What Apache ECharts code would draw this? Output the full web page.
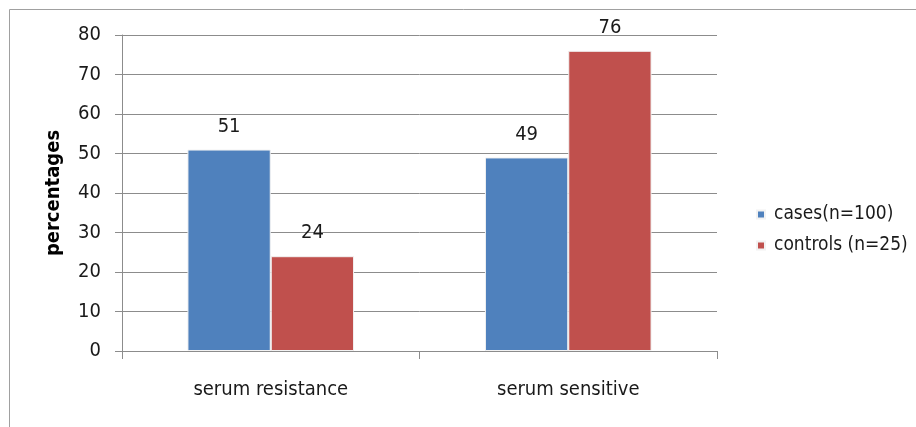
<!DOCTYPE html>
<html><head><meta charset="utf-8">
<script src="https://cdn.jsdelivr.net/npm/echarts@6/dist/echarts.min.js"></script>
<style>html,body{margin:0;padding:0;background:#fff}#c{width:916px;height:427px}</style>
</head><body><div id="c"></div>
<script>
const categories = ['serum resistance', 'serum sensitive'];
const casesValues = [51, 49];
const controlsValues = [24, 76];
const yTicks = [0, 10, 20, 30, 40, 50, 60, 70, 80];
const seriesNames = ['cases(n=100)', 'controls (n=25)'];

const FONT = '"DejaVu Sans Condensed", "Liberation Sans Narrow", sans-serif';
const chart = echarts.init(document.getElementById('c'), null, {renderer: 'canvas'});
chart.setOption({
  animation: false,
  backgroundColor: '#fff',
  graphic: [{
    type: 'rect', shape: {x: 9.5, y: 9.5, width: 1000, height: 1000},
    style: {fill: 'none', stroke: '#a0a0a0', lineWidth: 1}, silent: true, z: -1
  }],
  grid: {left: 122, right: 199, top: 35, bottom: 76, containLabel: false},
  legend: {
    orient: 'vertical', left: 751, top: 200, icon: 'rect',
    itemWidth: 8, itemHeight: 8, itemGap: 12,
    textStyle: {fontFamily: FONT, fontSize: 19, color: '#1a1a1a', padding: [0, 0, 0, 4]},
    data: seriesNames
  },
  xAxis: {
    type: 'category', data: categories,
    axisLine: {lineStyle: {color: '#8c8c8c', width: 1}},
    axisTick: {show: true, length: 8, alignWithLabel: false, lineStyle: {color: '#8c8c8c'}},
    axisLabel: {fontFamily: FONT, fontSize: 20, color: '#1a1a1a', margin: 29}
  },
  yAxis: {
    type: 'value', min: yTicks[0], max: yTicks[yTicks.length - 1], interval: 10,
    name: 'percentages', nameLocation: 'middle', nameGap: 58, nameRotate: 90,
    nameTextStyle: {fontFamily: FONT, fontSize: 20, fontWeight: 'bold', color: '#000'},
    axisLine: {show: true, lineStyle: {color: '#8c8c8c', width: 1}},
    axisTick: {show: true, length: 7, lineStyle: {color: '#8c8c8c'}},
    splitLine: {show: true, lineStyle: {color: '#8c8c8c', width: 1}},
    axisLabel: {fontFamily: FONT, fontSize: 20, color: '#1a1a1a', margin: 21}
  },
  series: [
    {
      name: seriesNames[0], type: 'bar', data: casesValues,
      barGap: '0%', barCategoryGap: '44%',
      itemStyle: {color: '#4F81BD', borderColor: '#f2f2f2', borderWidth: 1},
      label: {show: true, position: 'top', distance: 13, fontFamily: FONT, fontSize: 20, color: '#1a1a1a'}
    },
    {
      name: seriesNames[1], type: 'bar', data: controlsValues,
      barGap: '0%', barCategoryGap: '44%',
      itemStyle: {color: '#C0504D', borderColor: '#f2f2f2', borderWidth: 1},
      label: {show: true, position: 'top', distance: 13, fontFamily: FONT, fontSize: 20, color: '#1a1a1a'}
    }
  ]
});
</script></body></html>
